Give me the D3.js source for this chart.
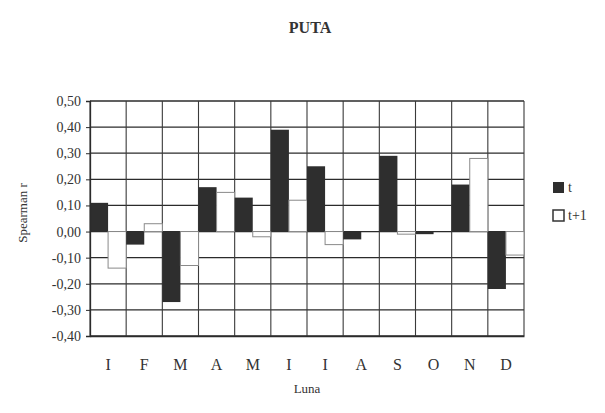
<!DOCTYPE html>
<html>
<head>
<meta charset="utf-8">
<script src="https://cdn.jsdelivr.net/npm/d3@7"></script>
<style>
html,body{margin:0;padding:0;background:#fff;}
svg{display:block;}
text{font-family:"Liberation Serif","DejaVu Serif",serif;fill:#333;}
</style>
</head>
<body>
<svg id="chart" width="605" height="413"></svg>
<script>
const months = ["I","F","M","A","M","I","I","A","S","O","N","D"];
const seriesNames = ["t","t+1"];
const valuesT  = [0.11,-0.05,-0.27,0.17,0.13,0.39,0.25,-0.03,0.29,-0.01,0.18,-0.22];
const valuesT1 = [-0.14,0.03,-0.13,0.15,-0.02,0.12,-0.05,0.00,-0.01,0.00,0.28,-0.09];
const yTicks = [-0.4,-0.3,-0.2,-0.1,0,0.1,0.2,0.3,0.4,0.5];
const title = "PUTA";
const xTitle = "Luna";
const yTitle = "Spearman r";

const svg = d3.select("#chart");
const pL = 90, pR = 524, pT = 101, pB = 336;

const x = d3.scaleBand().domain(d3.range(months.length)).range([pL, pR]).padding(0);
const xs = d3.scaleBand().domain(seriesNames).range([0, x.bandwidth()]).padding(0);
const y = d3.scaleLinear().domain([-0.4, 0.5]).range([pB, pT]);

const fmt = v => d3.format(".2f")(v).replace(".", ",").replace("−","-");

// gridlines horizontal
svg.append("g").selectAll("line").data(yTicks).join("line")
  .attr("x1", pL).attr("x2", pR)
  .attr("y1", d => y(d)).attr("y2", d => y(d))
  .attr("stroke", "#2b2b2b").attr("stroke-width", 1.3);
// vertical gridlines at category boundaries
svg.append("g").selectAll("line").data(d3.range(months.length + 1)).join("line")
  .attr("x1", i => i < months.length ? x(i) : pR).attr("x2", i => i < months.length ? x(i) : pR)
  .attr("y1", pT).attr("y2", pB)
  .attr("stroke", "#3a3a3a").attr("stroke-width", 1.1);

// bars
const groups = svg.append("g").selectAll("g").data(months.map((m, i) => i)).join("g")
  .attr("transform", i => `translate(${x(i)},0)`);
groups.append("rect")
  .attr("x", xs("t")).attr("width", xs.bandwidth())
  .attr("y", i => y(Math.max(0, valuesT[i])))
  .attr("height", i => Math.abs(y(valuesT[i]) - y(0)))
  .attr("fill", "#2e2e2e");
groups.append("rect")
  .attr("x", xs("t+1")).attr("width", xs.bandwidth())
  .attr("y", i => y(Math.max(0, valuesT1[i])))
  .attr("height", i => Math.abs(y(valuesT1[i]) - y(0)))
  .attr("fill", "#fff").attr("stroke", "#8a8a8a").attr("stroke-width", 1);

// y axis
const yAxis = d3.axisLeft(y).tickValues(yTicks).tickFormat(fmt).tickSize(4).tickPadding(4);
const ya = svg.append("g").attr("transform", `translate(${pL},0)`).call(yAxis)
  .attr("font-family", '"Liberation Serif",serif').attr("font-size", 14);
ya.select(".domain").attr("stroke", "#2b2b2b").attr("stroke-width", 1.3);
ya.selectAll(".tick line").attr("stroke", "#2b2b2b");
ya.selectAll("text").attr("fill", "#333").attr("dx", "-1");

// x axis labels
const xAxis = d3.axisBottom(x).tickFormat(i => months[i]).tickSize(0).tickPadding(23);
const xa = svg.append("g").attr("transform", `translate(0,${pB})`).call(xAxis)
  .attr("font-family", '"Liberation Serif",serif').attr("font-size", 16);
xa.select(".domain").attr("stroke", "#2b2b2b").attr("stroke-width", 1.3);
xa.selectAll("text").attr("fill", "#333");

// titles
svg.append("text").attr("x", 310).attr("y", 33).attr("text-anchor", "middle")
  .style("font-size", "16px").style("font-weight", "bold").text(title);
svg.append("text").attr("x", 307).attr("y", 393).attr("text-anchor", "middle")
  .style("font-size", "13px").text(xTitle);
svg.append("text").attr("transform", "translate(27,213) rotate(-90)").attr("text-anchor", "middle")
  .style("font-size", "13px").text(yTitle);

// legend
const leg = svg.append("g");
seriesNames.forEach((s, k) => {
  const yy = 182 + k * 28;
  leg.append("rect").attr("x", 553).attr("y", yy).attr("width", 11).attr("height", 11)
    .attr("fill", k === 0 ? "#2e2e2e" : "#fff").attr("stroke", k === 0 ? "none" : "#333").attr("stroke-width", 1.5);
  leg.append("text").attr("x", 568).attr("y", yy + 10).style("font-size", "14px").text(s);
});
</script>
</body>
</html>
